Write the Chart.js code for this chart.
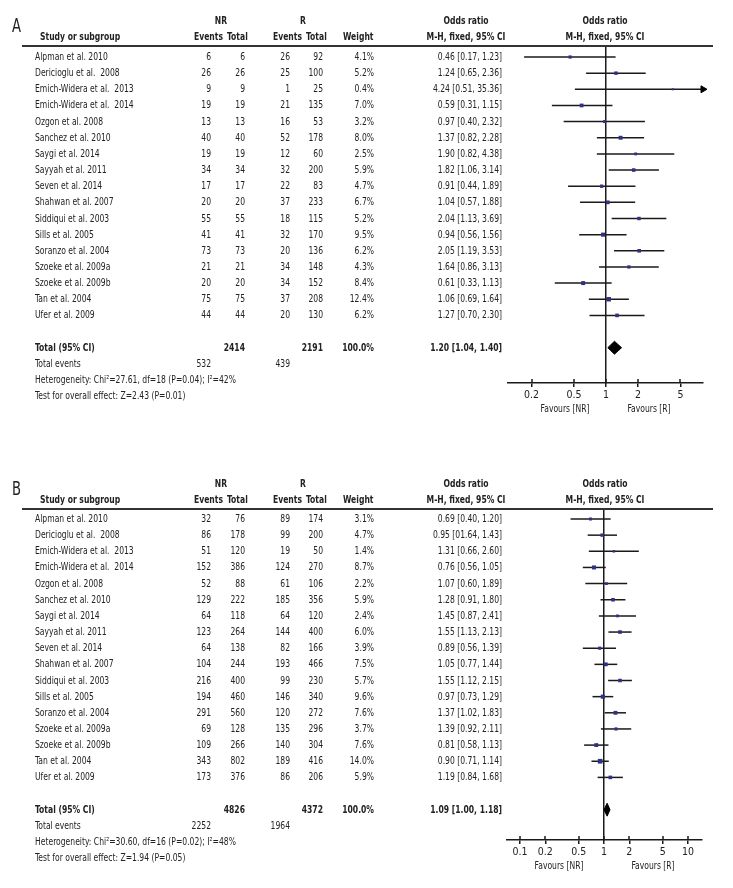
<!DOCTYPE html>
<html><head><meta charset="utf-8">
<script src="https://cdn.jsdelivr.net/npm/chart.js@4.4.1/dist/chart.umd.min.js"></script>
<style>
html,body{margin:0;padding:0;background:#fff;}
#wrap{position:relative;width:733px;height:888px;overflow:hidden;font-family:"Liberation Sans Narrow","DejaVu Sans Condensed","Liberation Sans",sans-serif;font-size:11px;color:#222;}
canvas{position:absolute;left:0;}
.t{position:absolute;white-space:pre;line-height:14px;height:14px;}
.b{font-weight:bold;}
.hl{position:absolute;height:2px;background:#333;}
.lbl{position:absolute;font-size:19px;line-height:20px;white-space:pre;transform-origin:0 50%;}
</style></head><body><div id="wrap">
<canvas id="cA" width="733" height="440" style="top:0px"></canvas>
<canvas id="cB" width="733" height="448" style="top:440px"></canvas>
</div>
<script>
// ---------------- DATA : panel A ----------------
const studiesA = ["Alpman et al. 2010","Dericioglu et al.  2008","Emich-Widera et al.  2013","Emich-Widera et al.  2014","Ozgon et al. 2008","Sanchez et al. 2010","Saygi et al. 2014","Sayyah et al. 2011","Seven et al. 2014","Shahwan et al. 2007","Siddiqui et al. 2003","Sills et al. 2005","Soranzo et al. 2004","Szoeke et al. 2009a","Szoeke et al. 2009b","Tan et al. 2004","Ufer et al. 2009"];
const nrEventsA = [6,26,9,19,13,40,19,34,17,20,55,41,73,21,20,75,44];
const nrTotalA  = [6,26,9,19,13,40,19,34,17,20,55,41,73,21,20,75,44];
const rEventsA  = [26,25,1,21,16,52,12,32,22,37,18,32,20,34,34,37,20];
const rTotalA   = [92,100,25,135,53,178,60,200,83,233,115,170,136,148,152,208,130];
const weightA   = [4.1,5.2,0.4,7.0,3.2,8.0,2.5,5.9,4.7,6.7,5.2,9.5,6.2,4.3,8.4,12.4,6.2];
const orA       = [0.46,1.24,4.24,0.59,0.97,1.37,1.90,1.82,0.91,1.04,2.04,0.94,2.05,1.64,0.61,1.06,1.27];
const loA       = [0.17,0.65,0.51,0.31,0.40,0.82,0.82,1.06,0.44,0.57,1.13,0.56,1.19,0.86,0.33,0.69,0.70];
const hiA       = [1.23,2.36,35.36,1.15,2.32,2.28,4.38,3.14,1.89,1.88,3.69,1.56,3.53,3.13,1.13,1.64,2.30];
const orTextA   = ["0.46 [0.17, 1.23]","1.24 [0.65, 2.36]","4.24 [0.51, 35.36]","0.59 [0.31, 1.15]","0.97 [0.40, 2.32]","1.37 [0.82, 2.28]","1.90 [0.82, 4.38]","1.82 [1.06, 3.14]","0.91 [0.44, 1.89]","1.04 [0.57, 1.88]","2.04 [1.13, 3.69]","0.94 [0.56, 1.56]","2.05 [1.19, 3.53]","1.64 [0.86, 3.13]","0.61 [0.33, 1.13]","1.06 [0.69, 1.64]","1.27 [0.70, 2.30]"];
const totalA    = [2414, 2191];          // NR total, R total
const totEventsA= [532, 439];            // NR events, R events
const pooledA   = [1.20, 1.04, 1.40];    // OR, lower, upper
const pooledTextA = "1.20 [1.04, 1.40]";
const statsA    = ["Heterogeneity: Chi\u00B2=27.61, df=18 (P=0.04); I\u00B2=42%","Test for overall effect: Z=2.43 (P=0.01)"];
const ticksA    = [0.2,0.5,1,2,5];

// ---------------- DATA : panel B ----------------
const studiesB = studiesA.slice();
const nrEventsB = [32,86,51,152,52,129,64,123,64,104,216,194,291,69,109,343,173];
const nrTotalB  = [76,178,120,386,88,222,118,264,138,244,400,460,560,128,266,802,376];
const rEventsB  = [89,99,19,124,61,185,64,144,82,193,99,146,120,135,140,189,86];
const rTotalB   = [174,200,50,270,106,356,120,400,166,466,230,340,272,296,304,416,206];
const weightB   = [3.1,4.7,1.4,8.7,2.2,5.9,2.4,6.0,3.9,7.5,5.7,9.6,7.6,3.7,7.6,14.0,5.9];
const orB       = [0.69,0.95,1.31,0.76,1.07,1.28,1.45,1.55,0.89,1.05,1.55,0.97,1.37,1.39,0.81,0.90,1.19];
const loB       = [0.40,0.64,0.66,0.56,0.60,0.91,0.87,1.13,0.56,0.77,1.12,0.73,1.02,0.92,0.58,0.71,0.84];
const hiB       = [1.20,1.43,2.60,1.05,1.89,1.80,2.41,2.13,1.39,1.44,2.15,1.29,1.83,2.11,1.13,1.14,1.68];
const orTextB   = ["0.69 [0.40, 1.20]","0.95 [01.64, 1.43]","1.31 [0.66, 2.60]","0.76 [0.56, 1.05]","1.07 [0.60, 1.89]","1.28 [0.91, 1.80]","1.45 [0.87, 2.41]","1.55 [1.13, 2.13]","0.89 [0.56, 1.39]","1.05 [0.77, 1.44]","1.55 [1.12, 2.15]","0.97 [0.73, 1.29]","1.37 [1.02, 1.83]","1.39 [0.92, 2.11]","0.81 [0.58, 1.13]","0.90 [0.71, 1.14]","1.19 [0.84, 1.68]"];
const totalB    = [4826, 4372];
const totEventsB= [2252, 1964];
const pooledB   = [1.09, 1.00, 1.18];
const pooledTextB = "1.09 [1.00, 1.18]";
const statsB    = ["Heterogeneity: Chi\u00B2=30.60, df=16 (P=0.02); I\u00B2=48%","Test for overall effect: Z=1.94 (P=0.05)"];
const ticksB    = [0.1,0.2,0.5,1,2,5,10];

// ---------------- LAYOUT / STYLE ----------------
const FONT = '"Liberation Sans Narrow","DejaVu Sans Condensed","Liberation Sans",sans-serif';
const NAVY = '#2f3185';
const INK = '#1a1a1a';
const wrap = document.getElementById('wrap');

// horizontal condensing factor so that the installed font matches the reference's condensed type
const mctx = document.createElement('canvas').getContext('2d');
mctx.font = '11px ' + FONT;
const K = Math.min(1, (97 / mctx.measureText('Emich-Widera et al.  2014').width +
           202 / mctx.measureText('Heterogeneity: Chi\u00B2=27.61, df=18 (P=0.04); I\u00B2=42%').width +
           65 / mctx.measureText('0.46 [0.17, 1.23]').width) / 3);

function addText(txt, x, y, align, bold) {
  const d = document.createElement('div');
  d.className = 't' + (bold ? ' b' : '');
  d.textContent = txt;
  d.style.left = x + 'px';
  d.style.top = (y - 7) + 'px';
  if (align === 'r') { d.style.transformOrigin = '100% 50%'; d.style.transform = 'translateX(-100%) scaleX(' + K + ')'; }
  else if (align === 'c') { d.style.transformOrigin = '50% 50%'; d.style.transform = 'translateX(-50%) scaleX(' + K + ')'; }
  else { d.style.transformOrigin = '0 50%'; d.style.transform = 'scaleX(' + K + ')'; }
  wrap.appendChild(d);
  return d;
}

const tickUp = {
  id: 'tickUp',
  afterDraw(chart) {
    const sx = chart.scales.x, ctx = chart.ctx, yb = chart.chartArea.bottom;
    ctx.save(); ctx.strokeStyle = INK; ctx.lineWidth = 1.5;
    sx.ticks.forEach(t => {
      const px = Math.round(sx.getPixelForValue(t.value));
      ctx.beginPath(); ctx.moveTo(px, yb - 4); ctx.lineTo(px, yb); ctx.stroke();
    });
    ctx.restore();
  }
};

function buildPanel(p) {
  const n = p.or.length;
  const totalRow = n + 1;
  const datasets = [];
  // squares (drawn on top: index 0)
  datasets.push({
    data: p.or.map((v, i) => ({x: v, y: i})),
    pointStyle: 'rect',
    pointRadius: p.weight.map(w => (1.5 + 0.85 * Math.sqrt(w)) / Math.SQRT2),
    backgroundColor: NAVY, borderColor: NAVY, borderWidth: 0, showLine: false
  });
  // pooled diamond
  const [po, pl, ph] = p.pooled;
  datasets.push({
    data: [{x: pl, y: totalRow}, {x: po, y: totalRow - 0.4}, {x: ph, y: totalRow}, {x: po, y: totalRow + 0.4}, {x: pl, y: totalRow}],
    showLine: true, fill: 'shape', backgroundColor: '#000', borderColor: '#000', borderWidth: 1, pointRadius: 0, tension: 0
  });
  // arrows for CIs beyond axis
  p.hi.forEach((h, i) => {
    if (h > p.xMax) {
      datasets.push({
        data: [{x: p.xMax, y: i}], pointStyle: 'triangle', rotation: 90, pointRadius: 4,
        backgroundColor: '#000', borderColor: '#000', borderWidth: 1, showLine: false, clip: false
      });
    }
  });
  // CI lines
  p.lo.forEach((l, i) => {
    datasets.push({
      data: [{x: Math.max(l, p.xMin), y: i}, {x: Math.min(p.hi[i], p.xMax), y: i}],
      showLine: true, borderColor: INK, borderWidth: 1.5, pointRadius: 0, fill: false
    });
  });

  const L = p.layout;
  const chart = new Chart(document.getElementById(p.canvas), {
    type: 'scatter',
    data: {datasets},
    options: {
      responsive: false, animation: false, events: [],
      layout: {padding: {left: L.left, right: 733 - L.right, top: L.lineY, bottom: L.height - L.axisY - 20}},
      plugins: {legend: {display: false}, tooltip: {enabled: false}},
      scales: {
        x: {
          type: 'logarithmic', min: p.xMin, max: p.xMax, position: 'bottom',
          afterBuildTicks: s => { s.ticks = p.ticks.map(v => ({value: v})); },
          afterFit: s => { s.height = 20; },
          ticks: {callback: v => String(v), font: {family: FONT, size: 10.5}, color: '#222', padding: 2, maxRotation: 0, autoSkip: false},
          grid: {drawOnChartArea: false, drawTicks: true, tickLength: 4, color: INK, lineWidth: 1.5},
          border: {display: true, color: INK, width: 1.5}
        },
        y: {
          type: 'linear', reverse: true,
          min: (L.lineY - L.row0) / L.dy, max: (L.axisY - L.row0) / L.dy,
          position: {x: 1},
          afterFit: s => { s.width = 0; },
          ticks: {display: false}, grid: {display: false},
          border: {display: true, color: INK, width: 1.5}
        }
      }
    },
    plugins: [tickUp]
  });

  const top = L.top;
  const yRow = r => chart.scales.y.getPixelForValue(r) + top;
  const C = p.cols;
  const lineY = L.lineY + top;

  // panel letter
  const lab = document.createElement('div');
  lab.className = 'lbl'; lab.textContent = p.letter;
  lab.style.left = '12px'; lab.style.top = (lineY - 31) + 'px';
  lab.style.transform = 'scaleX(' + K + ')';
  wrap.appendChild(lab);

  // header rule
  const hl = document.createElement('div');
  hl.className = 'hl'; hl.style.left = '22px'; hl.style.width = '691px'; hl.style.top = (lineY - 1) + 'px';
  wrap.appendChild(hl);

  // headers
  const h1 = lineY - 25, h2 = lineY - 9;
  addText('NR', 221, h1, 'c', true);
  addText('R', 303, h1, 'c', true);
  addText('Odds ratio', 466, h1, 'c', true);
  addText('Odds ratio', 605, h1, 'c', true);
  addText('Study or subgroup', 40, h2, 'l', true);
  addText('Events', 223, h2, 'r', true);
  addText('Total', 227, h2, 'l', true);
  addText('Events', 302, h2, 'r', true);
  addText('Total', 306, h2, 'l', true);
  addText('Weight', 343, h2, 'l', true);
  addText('M-H, fixed, 95% CI', 466, h2, 'c', true);
  addText('M-H, fixed, 95% CI', 605, h2, 'c', true);

  // study rows
  for (let i = 0; i < n; i++) {
    const y = yRow(i);
    addText(p.studies[i], C.name, y, 'l');
    addText(String(p.nrE[i]), C.nrE, y, 'r');
    addText(String(p.nrT[i]), C.nrT, y, 'r');
    addText(String(p.rE[i]), C.rE, y, 'r');
    addText(String(p.rT[i]), C.rT, y, 'r');
    addText(p.weight[i].toFixed(1) + '%', C.w, y, 'r');
    addText(p.orText[i], C.or, y, 'r');
  }
  // totals
  let y = yRow(totalRow);
  addText('Total (95% CI)', C.name, y, 'l', true);
  addText(String(p.total[0]), C.nrT, y, 'r', true);
  addText(String(p.total[1]), C.rT, y, 'r', true);
  addText('100.0%', C.w, y, 'r', true);
  addText(p.pooledText, C.or, y, 'r', true);
  y = yRow(totalRow + 1);
  addText('Total events', C.name, y, 'l');
  addText(String(p.totEv[0]), C.nrE, y, 'r');
  addText(String(p.totEv[1]), C.rE, y, 'r');
  addText(p.stats[0], C.name, yRow(totalRow + 2), 'l');
  addText(p.stats[1], C.name, yRow(totalRow + 3), 'l');

  // favours labels
  const fy = L.axisY + top + 26;
  addText('Favours [NR]', p.favX[0], fy, 'c');
  addText('Favours [R]', p.favX[1], fy, 'c');
}

const cols = {name: 35, nrE: 211, nrT: 245, rE: 290, rT: 323, w: 374, or: 502};

buildPanel({
  canvas: 'cA', letter: 'A', studies: studiesA,
  nrE: nrEventsA, nrT: nrTotalA, rE: rEventsA, rT: rTotalA, weight: weightA,
  or: orA, lo: loA, hi: hiA, orText: orTextA, total: totalA, totEv: totEventsA,
  pooled: pooledA, pooledText: pooledTextA, stats: statsA, ticks: ticksA,
  xMin: 0.12, xMax: 8.15, cols,
  favX: [565, 649],
  layout: {top: 0, height: 440, left: 508, right: 703, lineY: 46, row0: 57, dy: 16.15, axisY: 383}
});

buildPanel({
  canvas: 'cB', letter: 'B', studies: studiesB,
  nrE: nrEventsB, nrT: nrTotalB, rE: rEventsB, rT: rTotalB, weight: weightB,
  or: orB, lo: loB, hi: hiB, orText: orTextB, total: totalB, totEv: totEventsB,
  pooled: pooledB, pooledText: pooledTextB, stats: statsB, ticks: ticksB,
  xMin: 0.07, xMax: 14.7, cols,
  favX: [559, 653],
  layout: {top: 440, height: 448, left: 507, right: 702, lineY: 69, row0: 79, dy: 16.15, axisY: 400}
});
</script>
</body></html>
